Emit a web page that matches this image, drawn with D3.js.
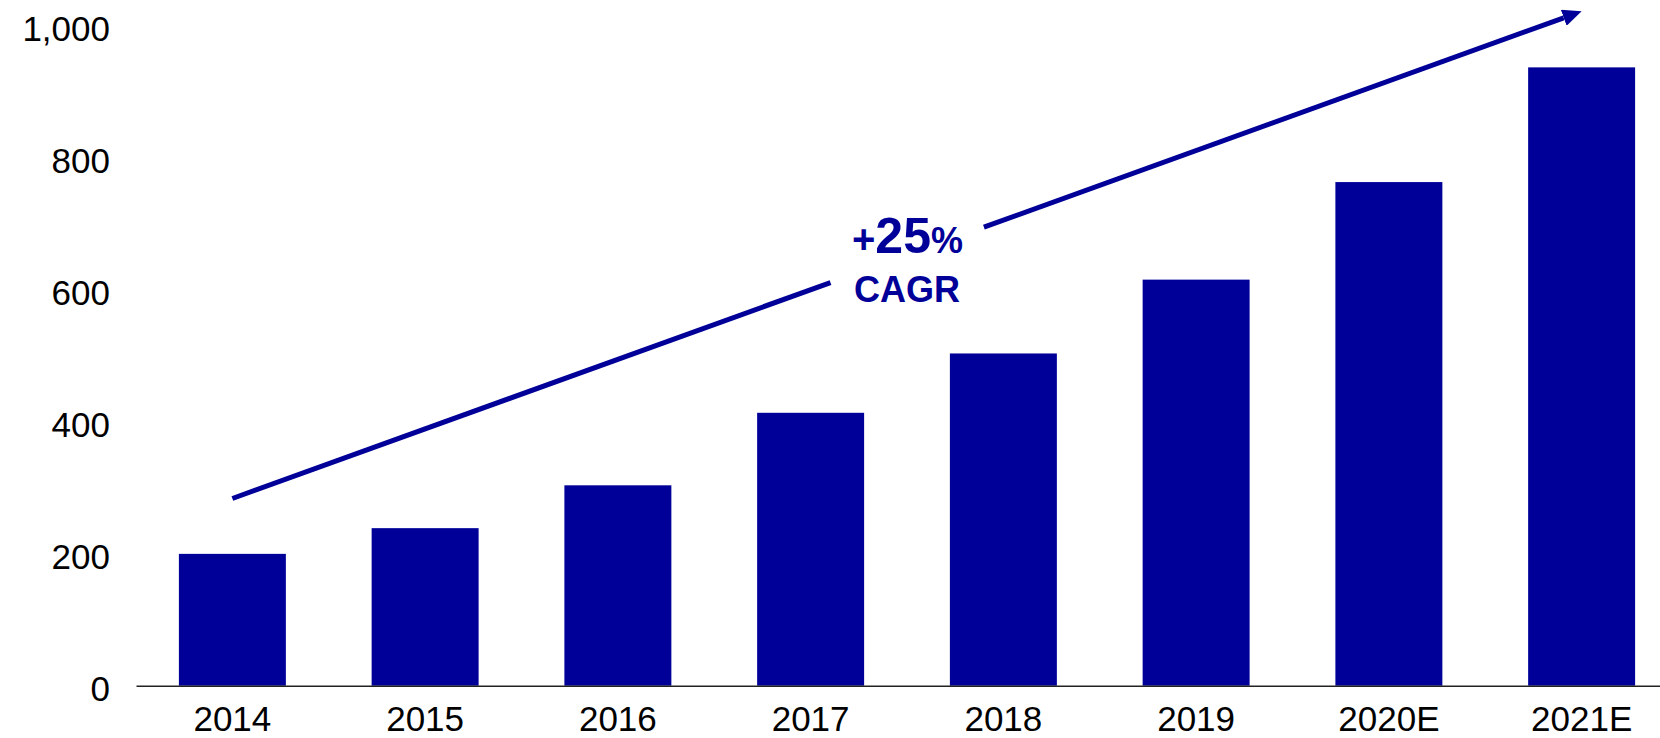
<!DOCTYPE html>
<html>
<head>
<meta charset="utf-8">
<script src="https://cdn.jsdelivr.net/npm/d3@7"></script>
<style>
    body { margin: 0; background: #fff; }
    svg { display: block; font-family: "Liberation Sans", Arial, sans-serif; }
</style>
</head>
<body>
<div id="chart"></div>
<script>
// chart data
const years = ["2014", "2015", "2016", "2017", "2018", "2019", "2020E", "2021E"];
const values = [200, 239, 304, 414, 504, 616, 764, 938];
const yTicks = [0, 200, 400, 600, 800, 1000];

// growth arrow, in data units (from first to last category)
const arrowStart = { year: "2014", value: 284 };
const arrowEnd = { year: "2021E", value: 1023 };
const cagrValue = "25";
const cagrLabel = "CAGR";

const width = 1660;
const height = 738;
const barColor = "#000099";

const svg = d3.select("#chart")
    .append("svg")
    .attr("width", width)
    .attr("height", height);

const x = d3.scaleBand()
    .domain(years)
    .range([136, 1678])
    .paddingInner(0.445)
    .paddingOuter(0.2225);

const y = d3.scaleLinear()
    .domain([0, 1000])
    .range([685.7, 26.5]);

// bars
svg.append("g")
    .selectAll("rect")
    .data(values)
    .join("rect")
    .attr("x", (d, i) => x(years[i]))
    .attr("y", d => y(d))
    .attr("width", x.bandwidth())
    .attr("height", d => y(0) - y(d))
    .attr("fill", barColor);

// y axis: labels only
const yAxis = svg.append("g")
    .attr("transform", "translate(110,0)")
    .call(d3.axisLeft(y)
        .tickValues(yTicks)
        .tickFormat(d3.format(","))
        .tickSize(0)
        .tickPadding(0));
yAxis.select(".domain").remove();
yAxis.selectAll("text")
    .attr("dy", "0.41em")
    .attr("fill", "#000")
    .style("font-size", "35px")
    .style("font-family", "'Liberation Sans', Arial, sans-serif");

// x axis with baseline
const xAxis = svg.append("g")
    .attr("transform", "translate(0," + y(0) + ")")
    .call(d3.axisBottom(x)
        .tickSize(0)
        .tickPadding(20));
xAxis.select(".domain")
    .attr("stroke", "#222")
    .attr("stroke-width", 1.4);
xAxis.selectAll("text")
    .attr("fill", "#000")
    .style("font-size", "35px")
    .style("font-family", "'Liberation Sans', Arial, sans-serif");

// CAGR arrow, broken around the label
const x0 = x(arrowStart.year) + x.bandwidth() / 2;
const y0 = y(arrowStart.value);
const x1 = x(arrowEnd.year) + x.bandwidth() / 2;
const y1 = y(arrowEnd.value);
const at = t => [x0 + (x1 - x0) * t, y0 + (y1 - y0) * t];
const arrowLen = Math.hypot(x1 - x0, y1 - y0);
const headLen = 19;

svg.append("defs")
    .append("marker")
    .attr("id", "head")
    .attr("markerUnits", "userSpaceOnUse")
    .attr("viewBox", "0 0 19 17")
    .attr("refX", 0)
    .attr("refY", 8.5)
    .attr("markerWidth", 19)
    .attr("markerHeight", 17)
    .attr("orient", "auto")
    .append("path")
    .attr("d", "M0,0 L19,8.5 L0,17 Z")
    .attr("fill", barColor);

const segments = [[0, 0.4433], [0.557, 1 - headLen / arrowLen]];
segments.forEach(function (s, i) {
    const a = at(s[0]);
    const b = at(s[1]);
    const line = svg.append("line")
        .attr("x1", a[0])
        .attr("y1", a[1])
        .attr("x2", b[0])
        .attr("y2", b[1])
        .attr("stroke", barColor)
        .attr("stroke-width", 5);
    if (i === segments.length - 1) {
        line.attr("marker-end", "url(#head)");
    }
});

// label
const label = svg.append("text")
    .attr("x", 907.5)
    .attr("y", 252.7)
    .attr("text-anchor", "middle")
    .attr("fill", barColor)
    .attr("font-weight", "bold");
label.append("tspan").style("font-size", "40px").text("+");
label.append("tspan").style("font-size", "50px").text(cagrValue);
label.append("tspan").style("font-size", "36px").text("%");

svg.append("text")
    .attr("x", 907)
    .attr("y", 301.7)
    .attr("text-anchor", "middle")
    .attr("fill", barColor)
    .attr("font-weight", "bold")
    .style("font-size", "36px")
    .text(cagrLabel);
</script>
</body>
</html>
